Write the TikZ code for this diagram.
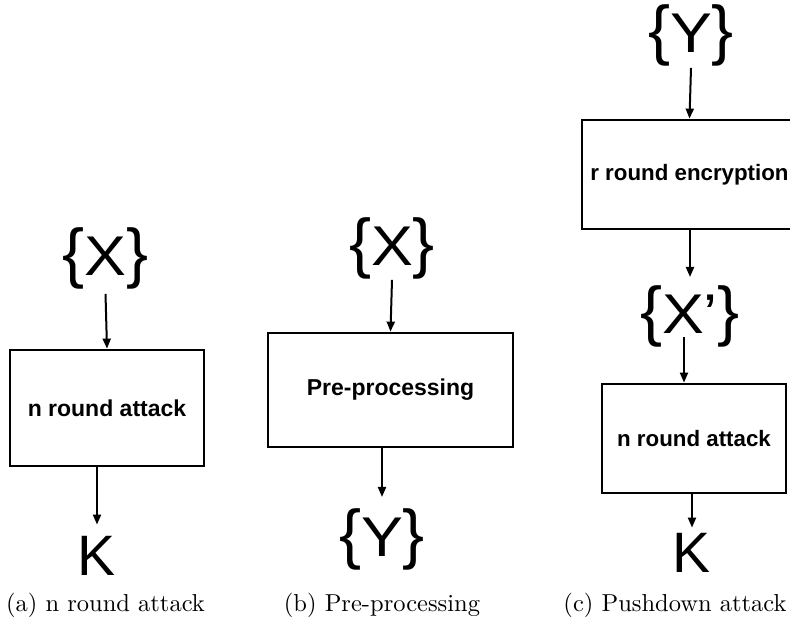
\documentclass[tikz,border=0pt]{standalone}
\usepackage{fontspec}
\usepackage{graphicx}
\newfontfamily\arialf{Liberation Sans}
\usetikzlibrary{arrows.meta}
\newcommand\brc[1]{{\fontsize{66}{66}\selectfont #1}}
\newcommand\setlbl[1]{\brc{\{}\scalebox{1.12}[1]{\fontsize{56}{56}\selectfont #1}\brc{\}}}
\newcommand\bigK{{\fontsize{57}{57}\selectfont K}}
\begin{document}
\begin{tikzpicture}[x=1pt,y=-1pt,
  box/.style={draw,line width=2.8pt,inner sep=0pt,font=\arialf\bfseries\fontsize{23}{27}\selectfont},
  boxc/.style={box,font=\arialf\bfseries\fontsize{22.3}{27}\selectfont},
  big/.style={font=\arialf,inner sep=0pt,anchor=base},
  captxt/.style={inner sep=0pt,anchor=base},
  arr/.style={line width=2pt,-{Triangle[length=10pt,width=8pt]}}]
\useasboundingbox (0,0) rectangle (790,627);
\clip (0,0) rectangle (790,627);
% (a)
\node[big] (xa) at (105.5,275) {\setlbl{X}};
\node[box,minimum width=194pt,minimum height=116pt] (boxa) at (107,408) {n round attack};
\node[big] (ka) at (97,575) {\bigK};
\node[captxt] (capa) at (105.5,611) {\scalebox{2.45}{(a) n round attack}};
\draw[arr] ([yshift=-5pt]xa.south) -- (boxa.north);
\draw[arr] (boxa.south -| ka) -- ([yshift=11pt]ka.north);
% (b)
\node[big] (xb) at (392,265) {\setlbl{X}};
\node[box,minimum width=245pt,minimum height=114pt] (boxb) at (390.5,390) {Pre-processing};
\node[big] (yb) at (382,556) {\setlbl{Y}};
\node[captxt] (capb) at (382,611) {\scalebox{2.45}{(b) Pre-processing}};
\draw[arr] ([yshift=-1pt]xb.south) -- (boxb.north);
\draw[arr] (boxb.south -| yb) -- ([yshift=11pt]yb.north);
% (c)
\node[big] (yc) at (691,52) {\setlbl{Y}};
\node[boxc,minimum width=215pt,minimum height=109pt] (boxc) at (689.5,174.5) {r round encryption};
\node[big] (xc) at (690,333) {\setlbl{X’}};
\node[boxc,minimum width=184pt,minimum height=109pt] (boxd) at (694,438.5) {n round attack};
\node[big] (kc) at (692,572) {\bigK};
\node[captxt] (capc) at (675,611) {\scalebox{2.45}{(c) Pushdown attack}};
\draw[arr] ([yshift=-2pt]yc.south) -- (boxc.north);
\draw[arr] (boxc.south -| xc) -- ([yshift=8pt]xc.north);
\draw[arr] ([xshift=-6pt,yshift=10pt]xc.south) -- ([xshift=-10pt]boxd.north);
\draw[arr] (boxd.south -| kc) -- ([yshift=5pt]kc.north);
\end{tikzpicture}
\end{document}
